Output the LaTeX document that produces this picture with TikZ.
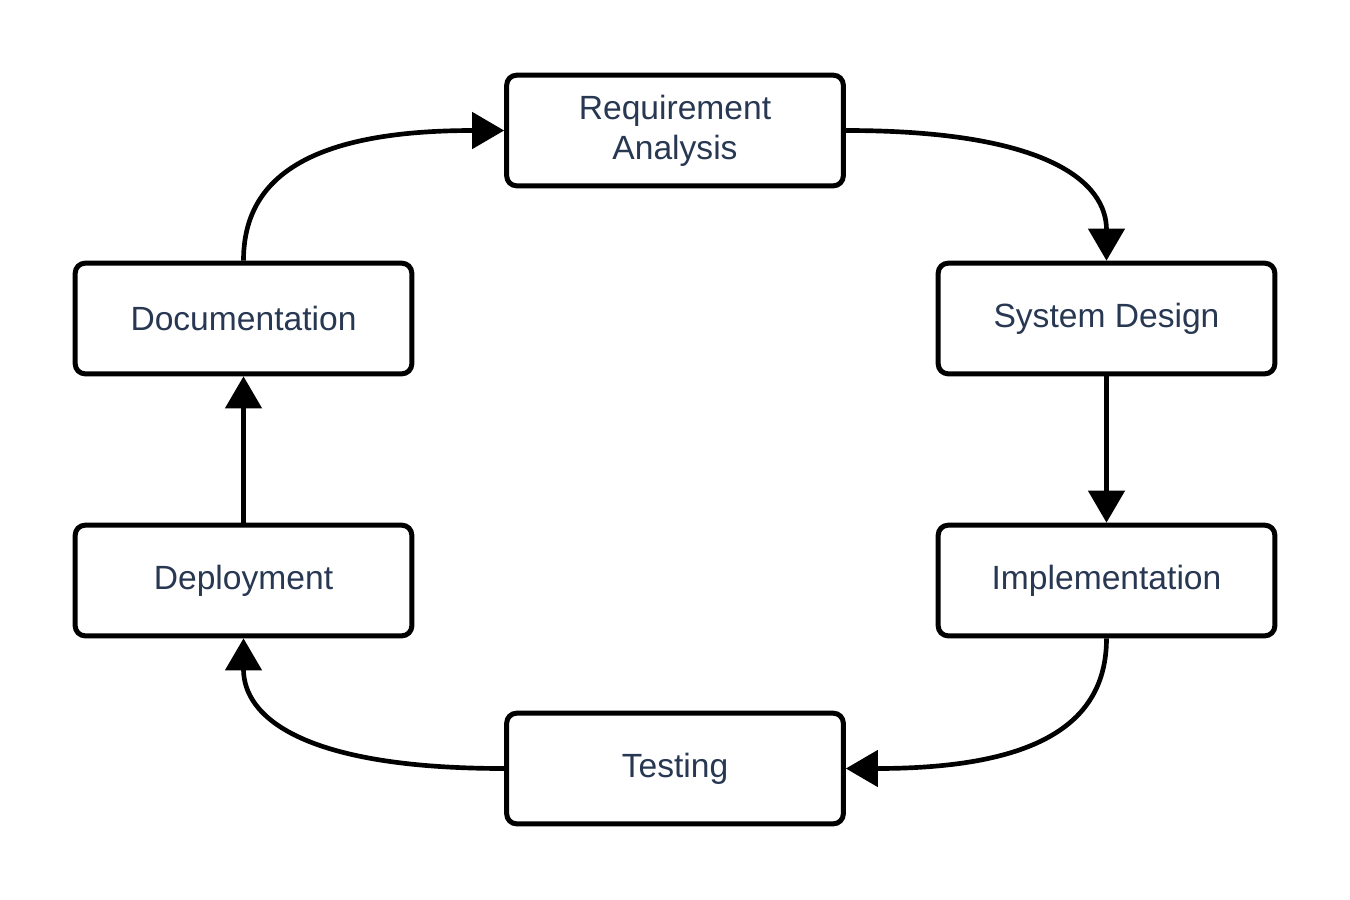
\documentclass[tikz,border=0pt]{standalone}
\usepackage{fontspec}
\setmainfont{Liberation Sans}
\usetikzlibrary{arrows.meta}
\definecolor{txt}{RGB}{40,56,82}
\begin{document}
\begin{tikzpicture}[x=0.75pt,y=-0.75pt,
  stage/.style={draw=black,line width=3.75pt,rounded corners=7.5pt,fill=white,
    minimum width=252.5pt,minimum height=83pt,inner sep=0pt,align=center,
    text=txt,font=\fontsize{25.2pt}{30pt}\selectfont},
  conn/.style={line width=3.5pt,-{Triangle[length=24pt,width=27pt]}}]
\useasboundingbox (0,0) rectangle (1350,900);
\node[stage] (ra) at (675,130.5) {Requirement\\Analysis};
\node[stage] (sd) at (1106.5,318.5) {System Design};
\node[stage] (im) at (1106.5,580.5) {Implementation};
\node[stage] (te) at (675,768.5) {Testing};
\node[stage] (de) at (243.5,580.5) {Deployment};
\node[stage] (do) at (243.5,318.5) {Documentation};
\draw[conn] (ra.east) .. controls +(203,0) and +(0,-78) .. (sd.north);
\draw[conn] (sd.south) -- (im.north);
\draw[conn] (im.south) .. controls +(0,78) and +(203,0) .. (te.east);
\draw[conn] (te.west) .. controls +(-203,0) and +(0,78) .. (de.south);
\draw[conn] (de.north) -- (do.south);
\draw[conn] (do.north) .. controls +(0,-78) and +(-203,0) .. (ra.west);
\end{tikzpicture}
\end{document}
